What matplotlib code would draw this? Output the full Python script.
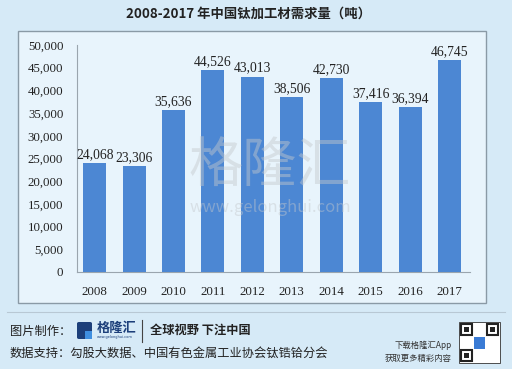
import matplotlib
matplotlib.use("Agg")
import matplotlib.pyplot as plt
from matplotlib.patches import Rectangle, FancyBboxPatch
from matplotlib.lines import Line2D

years = ["2008", "2009", "2010", "2011", "2012", "2013", "2014", "2015", "2016", "2017"]
demand = [24068, 23306, 35636, 44526, 43013, 38506, 42730, 37416, 36394, 46745]
yticks = [0, 5000, 10000, 15000, 20000, 25000, 30000, 35000, 40000, 45000, 50000]

title = "2008-2017 年中国钛加工材需求量（吨）"
CJK = ["Noto Sans CJK SC", "DejaVu Sans"]
SERIF = ["Liberation Serif", "DejaVu Serif"]

W, H = 512, 369
fig = plt.figure(figsize=(W / 100, H / 100), dpi=100)
fig.patch.set_facecolor("#d6eaf7")

def fx(px):
    return px / W

def fy(py):
    return 1 - py / H

# inner panel
fig.patches.append(Rectangle((fx(18), fy(303)), fx(486) - fx(18), fy(31) - fy(303),
                             transform=fig.transFigure, facecolor="#e8f4fc",
                             edgecolor="#8a9aa6", linewidth=1.0, zorder=-5))

ax = fig.add_axes([fx(76.5), fy(272), fx(470) - fx(76.5), fy(45) - fy(272)])
ax.set_zorder(2)
ax.set_facecolor("none")
x = list(range(len(years)))
ax.bar(x, demand, width=0.58, color="#4c87d3", zorder=3)
for xi, v in zip(x, demand):
    ax.text(xi, v + 450, f"{v:,}", ha="center", va="bottom", fontsize=9.8,
            family=SERIF, color="#222222", zorder=4)
ax.set_xlim(-0.46, 9.52)
ax.set_ylim(0, 50000)
ax.set_xticks(x)
ax.set_xticklabels(years, family=SERIF, fontsize=9.3, color="#222222")
ax.set_yticks(yticks)
ax.set_yticklabels([f"{t:,}" for t in yticks], family=SERIF, fontsize=9.3, color="#222222")
ax.tick_params(axis="y", length=0, pad=9.5)
ax.tick_params(axis="x", length=0, pad=10)
for s in ["top", "right"]:
    ax.spines[s].set_visible(False)
ax.spines["left"].set_color("#9aa5ae")
ax.spines["bottom"].set_color("#9aa5ae")

# watermark
fig.text(fx(270), fy(166), "格隆汇", family=CJK, fontsize=39, color="#c4c8cc",
         alpha=0.45, ha="center", va="center", zorder=5)
fig.text(fx(270), fy(208), "www.gelonghui.com", family=CJK, fontsize=12, color="#c4c8cc",
         alpha=0.45, ha="center", va="center", zorder=5)

# title
fig.text(fx(249), fy(14), title, family=CJK, fontsize=9.6, fontweight="bold",
         color="#222222", ha="center", va="center")

# footer separator
fig.add_artist(Line2D([fx(7), fx(505)], [fy(312), fy(312)], transform=fig.transFigure,
                      color="#b8c8d4", linewidth=0.8))

fig.text(fx(10), fy(331), "图片制作：", family=CJK, fontsize=8.8, color="#222222",
         ha="left", va="center")
# logo icon
fig.patches.append(FancyBboxPatch((fx(77), fy(339)), fx(15), fy(322) - fy(339),
                                  boxstyle="round,pad=0,rounding_size=0.004",
                                  transform=fig.transFigure, facecolor="#1c3f7a",
                                  edgecolor="none"))
fig.patches.append(Rectangle((fx(85), fy(339)), fx(7), fy(331) - fy(339),
                             transform=fig.transFigure, facecolor="#3f8fe0",
                             edgecolor="none"))
fig.text(fx(97), fy(328), "格隆汇", family=CJK, fontsize=9.5, fontweight="bold",
         color="#1c3f7a", ha="left", va="center")
fig.text(fx(97), fy(337), "www.gelonghui.com", family=["DejaVu Sans"], fontsize=2.5,
         color="#1c3f7a", ha="left", va="center")
fig.add_artist(Line2D([fx(142), fx(142)], [fy(320), fy(342)], transform=fig.transFigure,
                      color="#444444", linewidth=0.8))
fig.text(fx(150), fy(330), "全球视野 下注中国", family=CJK, fontsize=8.8, fontweight="bold",
         color="#222222", ha="left", va="center")
fig.text(fx(10), fy(353), "数据支持：勾股大数据、中国有色金属工业协会钛锆铪分会", family=CJK,
         fontsize=8.8, color="#222222", ha="left", va="center")
fig.text(fx(452), fy(345), "下载格隆汇App", family=CJK, fontsize=6, color="#333333",
         ha="right", va="center")
fig.text(fx(452), fy(358), "获取更多精彩内容", family=CJK, fontsize=6, color="#333333",
         ha="right", va="center")

# QR placeholder
qx0, qy0, qs = 459, 322, 41
fig.patches.append(Rectangle((fx(qx0), fy(qy0 + qs)), fx(qs), fy(qy0) - fy(qy0 + qs),
                             transform=fig.transFigure, facecolor="#ffffff",
                             edgecolor="#333333", linewidth=0.6))
for (cx, cy) in [(qx0 + 2, qy0 + 2), (qx0 + qs - 13, qy0 + 2), (qx0 + 2, qy0 + qs - 13)]:
    fig.patches.append(Rectangle((fx(cx), fy(cy + 11)), fx(11), fy(cy) - fy(cy + 11),
                                 transform=fig.transFigure, facecolor="#ffffff",
                                 edgecolor="#222222", linewidth=1.5))
    fig.patches.append(Rectangle((fx(cx + 3), fy(cy + 8)), fx(5), fy(cy + 3) - fy(cy + 8),
                                 transform=fig.transFigure, facecolor="#222222",
                                 edgecolor="none"))
fig.patches.append(Rectangle((fx(qx0 + 15), fy(qy0 + 27)), fx(11), fy(qy0 + 15) - fy(qy0 + 27),
                             transform=fig.transFigure, facecolor="#3a7bd5",
                             edgecolor="none"))

fig.savefig("out.png", dpi=100, facecolor=fig.get_facecolor())
